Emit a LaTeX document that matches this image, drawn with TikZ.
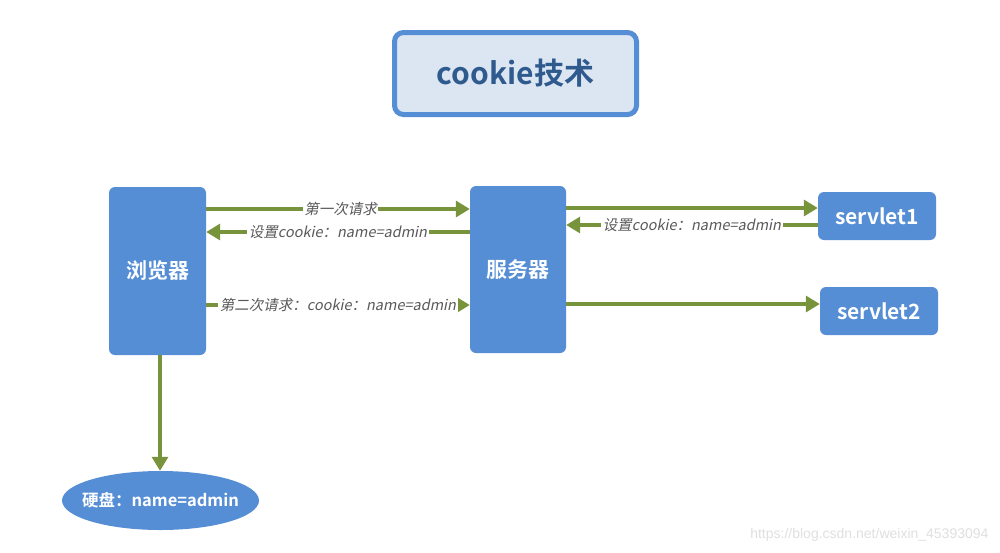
\documentclass[tikz,border=0pt]{standalone}
\usepackage{fontspec}
\usetikzlibrary{arrows.meta,shapes.geometric}
\newfontfamily\cjk{Noto Sans CJK SC}
\newfontfamily\cjkbold{Noto Sans CJK SC Bold}
\newfontfamily\cjkit{Noto Sans CJK SC}[FakeSlant=0.2]
\newfontfamily\wmfont{Liberation Sans}
\definecolor{boxblue}{HTML}{558ED5}
\definecolor{titlefill}{HTML}{DCE6F2}
\definecolor{titletext}{HTML}{2F5A8E}
\definecolor{arrowgreen}{HTML}{77933C}
\definecolor{labelgrey}{HTML}{595959}
\tikzset{
  blockbox/.style={fill=boxblue, draw=none, rounded corners=6pt, text=white, font=\cjkbold\fontsize{21pt}{24pt}\selectfont},
  flow/.style={draw=arrowgreen, line width=3.2pt, -{Triangle[length=14pt,width=16pt]}},
  flowlabel/.style={fill=white, inner sep=1.5pt, text=labelgrey, font=\cjkit\fontsize{14.5pt}{16pt}\selectfont},
}
\begin{document}
\begin{tikzpicture}[x=1pt,y=-1pt]
\useasboundingbox (0,0) rectangle (1000,552);
\fill[white] (0,0) rectangle (1000,552);
% title
\node[draw=boxblue, line width=5pt, fill=titlefill, rounded corners=9pt, minimum width=242pt, minimum height=82pt, text=titletext, font=\cjkbold\fontsize{30pt}{34pt}\selectfont] (title) at (515.5,73.5) {cookie技术};
% blocks
\node[blockbox, minimum width=97pt, minimum height=168pt] (browser) at (157.5,271) {浏览器};
\node[blockbox, minimum width=96pt, minimum height=167pt] (server) at (518,269.5) {服务器};
\node[blockbox, minimum width=118pt, minimum height=48pt] (s1) at (877,216) {servlet1};
\node[blockbox, minimum width=118pt, minimum height=48pt] (s2) at (879,311) {servlet2};
\node[ellipse, fill=boxblue, minimum width=197pt, minimum height=59pt, inner sep=0pt] (disk) at (160.5,500.5) {};
\node[text=white, font=\cjkbold\fontsize{16.5pt}{20pt}\selectfont] (disktext) at (disk.center) {硬盘：name=admin};
% connectors
\draw[flow] (browser.east |- 0,209) -- node[flowlabel, pos=0.51]{第一次请求} (server.west |- 0,209);
\draw[flow] (server.west |- 0,232) -- node[flowlabel, pos=0.50]{设置cookie：name=admin} (browser.east |- 0,232);
\draw[flow] (browser.east |- 0,305) -- node[flowlabel, pos=0.50]{第二次请求：cookie：name=admin} (server.west |- 0,305);
\draw[flow] (server.east |- 0,208) -- (s1.west |- 0,208);
\draw[flow] (s1.west |- 0,225) -- node[flowlabel, pos=0.50]{设置cookie：name=admin} (server.east |- 0,225);
\draw[flow] (server.east |- 0,304) -- (s2.west |- 0,304);
\draw[flow] (160,355) -- (disk.north -| 160,0);
% watermark
\node[text=black!12, font=\wmfont\fontsize{14pt}{16pt}\selectfont, anchor=east] (wm) at (992,535) {https://blog.csdn.net/weixin\_45393094};
\end{tikzpicture}
\end{document}
